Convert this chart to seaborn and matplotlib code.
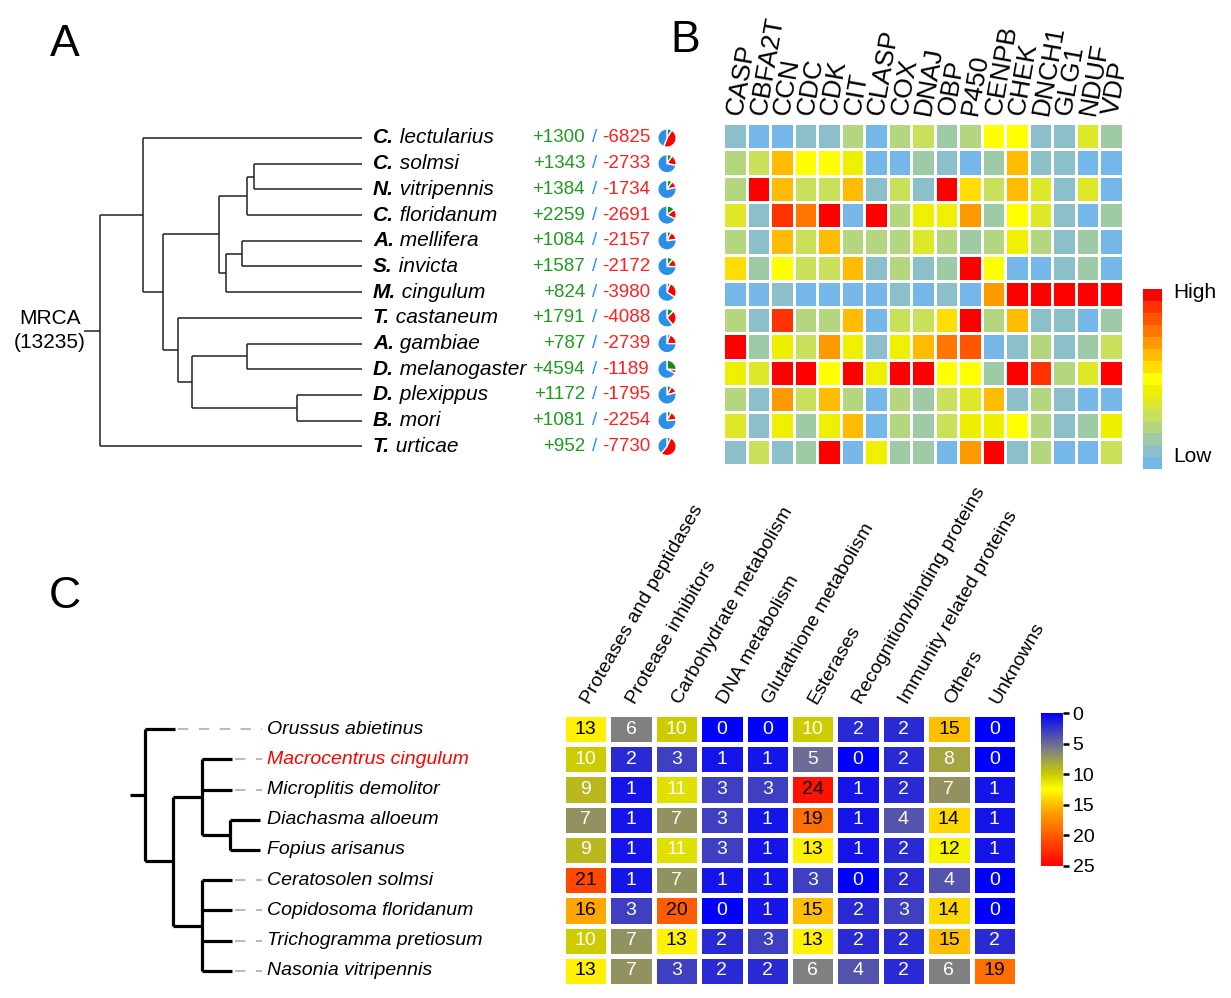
import numpy as np
import pandas as pd
import seaborn as sns
import matplotlib.pyplot as plt
from matplotlib.colors import ListedColormap, LinearSegmentedColormap

# ---------------- data ----------------
species_a = ['C. lectularius', 'C. solmsi', 'N. vitripennis', 'C. floridanum', 'A. mellifera',
             'S. invicta', 'M. cingulum', 'T. castaneum', 'A. gambiae', 'D. melanogaster',
             'D. plexippus', 'B. mori', 'T. urticae']
gains = [1300, 1343, 1384, 2259, 1084, 1587, 824, 1791, 787, 4594, 1172, 1081, 952]
losses = [6825, 2733, 1734, 2691, 2157, 2172, 3980, 4088, 2739, 1189, 1795, 2254, 7730]
mrca_size = 13235

# tree A: (node depth, children), leaves by name
tree_a = (0, [(43, ['C. lectularius',
                    (63, [(119, [(147, [(154, ['C. solmsi', 'N. vitripennis']), 'C. floridanum']),
                                 (126, [(142, ['A. mellifera', 'S. invicta']), 'M. cingulum'])]),
                          (78, ['T. castaneum',
                                (92, [(147, ['A. gambiae', 'D. melanogaster']),
                                      (197, ['D. plexippus', 'B. mori'])])])])]),
              'T. urticae'])
tips_a = {s: 262 for s in species_a}

genes = ['CASP', 'CBFA2T', 'CCN', 'CDC', 'CDK', 'CIT', 'CLASP', 'COX', 'DNAJ', 'OBP',
         'P450', 'CENPB', 'CHEK', 'DNCH1', 'GLG1', 'NDUF', 'VDP']
# expression level (0 = low ... 14 = high)
levels_b = [
    [1, 0, 0, 1, 1, 3, 0, 3, 4, 2, 3, 7, 7, 1, 1, 5, 2],
    [3, 4, 9, 7, 7, 6, 0, 0, 2, 1, 0, 2, 9, 1, 1, 0, 0],
    [3, 14, 9, 4, 4, 9, 1, 4, 1, 14, 8, 4, 9, 5, 1, 5, 0],
    [5, 1, 13, 11, 14, 0, 14, 3, 6, 6, 10, 2, 7, 5, 1, 0, 2],
    [3, 1, 9, 4, 9, 3, 3, 3, 5, 3, 2, 3, 6, 3, 1, 2, 0],
    [8, 2, 7, 4, 4, 9, 1, 3, 1, 2, 14, 7, 0, 0, 1, 2, 0],
    [0, 0, 1, 0, 0, 0, 0, 1, 0, 1, 0, 10, 14, 14, 14, 14, 14],
    [3, 1, 13, 3, 3, 9, 0, 4, 4, 8, 14, 3, 9, 1, 1, 0, 2],
    [14, 2, 6, 4, 10, 6, 1, 6, 9, 11, 12, 0, 1, 3, 1, 2, 4],
    [6, 5, 14, 14, 7, 14, 6, 14, 14, 7, 7, 2, 14, 13, 3, 5, 14],
    [3, 1, 10, 4, 9, 3, 0, 3, 2, 4, 5, 9, 1, 3, 1, 0, 0],
    [5, 1, 6, 2, 6, 9, 0, 3, 2, 4, 6, 6, 7, 3, 1, 2, 6],
    [1, 4, 1, 2, 14, 0, 6, 2, 2, 0, 10, 14, 1, 3, 0, 0, 4],
]
colors_b = ['#76b7ea', '#8bc0cb', '#9ecba6', '#b3d67f', '#c8e05a', '#dce828', '#eef000',
            '#ffff00', '#ffdd00', '#ffbb00', '#ff9900', '#ff7700', '#ff5500', '#ff3300', '#ff0000']

species_c = ['Orussus abietinus', 'Macrocentrus cingulum', 'Microplitis demolitor',
             'Diachasma alloeum', 'Fopius arisanus', 'Ceratosolen solmsi',
             'Copidosoma floridanum', 'Trichogramma pretiosum', 'Nasonia vitripennis']
categories = ['Proteases and peptidases', 'Protease inhibitors', 'Carbohydrate metabolism',
              'DNA metabolism', 'Glutathione metabolism', 'Esterases',
              'Recognition/binding proteins', 'Immunity related proteins', 'Others', 'Unknowns']
counts_c = [
    [13, 6, 10, 0, 0, 10, 2, 2, 15, 0],
    [10, 2, 3, 1, 1, 5, 0, 2, 8, 0],
    [9, 1, 11, 3, 3, 24, 1, 2, 7, 1],
    [7, 1, 7, 3, 1, 19, 1, 4, 14, 1],
    [9, 1, 11, 3, 1, 13, 1, 2, 12, 1],
    [21, 1, 7, 1, 1, 3, 0, 2, 4, 0],
    [16, 3, 20, 0, 1, 15, 2, 3, 14, 0],
    [10, 7, 13, 2, 3, 13, 2, 2, 15, 2],
    [13, 7, 3, 2, 2, 6, 4, 2, 6, 19],
]
tree_c = (0, ['Orussus abietinus',
              (28, [(57, ['Macrocentrus cingulum', 'Microplitis demolitor',
                          (85, ['Diachasma alloeum', 'Fopius arisanus'])]),
                    (57, ['Ceratosolen solmsi', 'Copidosoma floridanum',
                          'Trichogramma pretiosum', 'Nasonia vitripennis'])])])
tips_c = {'Orussus abietinus': 30, 'Diachasma alloeum': 115, 'Fopius arisanus': 115}
for s in species_c:
    tips_c.setdefault(s, 87)

# ---------------- figure ----------------
W, H = 1231, 998
sns.set_theme(style='white')
plt.rcParams['font.family'] = ['Liberation Sans', 'DejaVu Sans']
plt.rcParams['text.color'] = 'black'
plt.rcParams['xtick.color'] = 'black'
plt.rcParams['ytick.color'] = 'black'
fig = plt.figure(figsize=(W / 100, H / 100), dpi=100)


def rect(x0, y0, x1, y1):
    return [x0 / W, 1 - y1 / H, (x1 - x0) / W, (y1 - y0) / H]


def draw_tree(ax, node, parent_x, rows, tips, **kw):
    if isinstance(node, str):
        y = rows[node] + 0.5
        ax.plot([parent_x, tips[node]], [y, y], **kw)
        return y
    x, kids = node
    ys = [draw_tree(ax, k, x, rows, tips, **kw) for k in kids]
    ax.plot([x, x], [ys[0], ys[-1]], **kw)
    y = (ys[0] + ys[-1]) / 2
    ax.plot([parent_x, x], [y, y], **kw)
    return y


# ---- panel A ----
top_a, row_h = 125.15, 25.7
axA = fig.add_axes(rect(0, top_a, 700, top_a + 13 * row_h))
axA.set_xlim(-100, 600)
axA.set_ylim(13, 0)
axA.axis('off')
rows_a = {s: i for i, s in enumerate(species_a)}
root_y = draw_tree(axA, tree_a, -16, rows_a, tips_a, color='#222222', lw=1.1,
                   solid_capstyle='butt')
axA.text(-50, root_y - 0.47, 'MRCA', ha='center', va='center', fontsize=15)
axA.text(-50, root_y + 0.47, '(%d)' % mrca_size, ha='center', va='center', fontsize=15)

for i, s in enumerate(species_a):
    y = i + 0.5
    genus, sp = s.split(' ')
    t = axA.text(273, y, genus, fontsize=15, fontweight='bold', fontstyle='italic',
                 va='center', ha='left')
    axA.annotate(' ' + sp, xy=(1, 0), xycoords=t, va='bottom', ha='left',
                 fontsize=15, fontstyle='italic')
    axA.text(485, y, '+%d' % gains[i], color='#1f9a1f', fontsize=13.5, ha='right', va='center')
    axA.text(495, y, '/', color='#1e90ff', fontsize=13.5, ha='center', va='center')
    axA.text(502, y, '-%d' % losses[i], color='#ff2020', fontsize=13.5, ha='left', va='center')

    yc = top_a + (i + 0.5) * row_h
    axp = fig.add_axes(rect(655.5, yc - 11.5, 678.5, yc + 11.5))
    axp.pie([gains[i], losses[i], mrca_size - losses[i]],
            colors=['#1a8c1a', '#ff0000', '#2a8fe8'], startangle=90, counterclock=False)
    axp.set_xlim(-1.25, 1.25)
    axp.set_ylim(-1.25, 1.25)
    axp.set_aspect('equal')

# ---- panel B ----
dfB = pd.DataFrame(levels_b, index=species_a, columns=genes)
axB = fig.add_axes(rect(723, 123, 1123, 465))
caxB = fig.add_axes(rect(1143, 289, 1162, 469))
sns.heatmap(dfB, ax=axB, cmap=ListedColormap(colors_b), vmin=-0.5, vmax=14.5,
            linewidths=2, linecolor='white', cbar_ax=caxB)
axB.xaxis.tick_top()
axB.set_xticklabels(genes, rotation=80, ha='left', va='center', rotation_mode='anchor',
                    fontsize=19)
axB.tick_params(axis='x', length=0, pad=6)
axB.set_yticks([])
axB.set_xlabel('')
axB.set_ylabel('')
axB.collections[0].colorbar.outline.set_visible(False)
caxB.set_yticks([0.7, 14.4])
caxB.set_yticklabels(['Low', 'High'], fontsize=15)
caxB.tick_params(length=0, pad=8)

# ---- panel C ----
axTC = fig.add_axes(rect(100, 714, 560, 986))
axTC.set_xlim(-45, 415)
axTC.set_ylim(9, 0)
axTC.axis('off')
rows_c = {s: i for i, s in enumerate(species_c)}
draw_tree(axTC, tree_c, -15, rows_c, tips_c, color='black', lw=2.3, solid_capstyle='butt')
for i, s in enumerate(species_c):
    y = i + 0.5
    if tips_c[s] < 110:
        axTC.plot([tips_c[s] + 3, 117], [y, y], color='#bbbbbb', lw=1.5,
                  linestyle=(0, (5, 5)))
    axTC.text(122, y, s, fontsize=14, fontstyle='italic', va='center', ha='left',
              color='red' if s.startswith('Macrocentrus') else 'black')

cmapC = LinearSegmentedColormap.from_list(
    'venom', [(0, '#0000ff'), (6 / 25, '#808080'), (10 / 25, '#cccc00'),
              (12.5 / 25, '#ffff00'), (16 / 25, '#ffa500'), (1, '#ff0000')])
dfC = pd.DataFrame(counts_c, index=species_c, columns=categories)
axHC = fig.add_axes(rect(563, 714, 1017, 986))
caxC = fig.add_axes(rect(1041, 713, 1063, 866))
sns.heatmap(dfC, ax=axHC, cmap=cmapC, vmin=0, vmax=25, annot=True, fmt='d',
            annot_kws={'fontsize': 14}, linewidths=2.2, linecolor='white', cbar_ax=caxC)
vals = dfC.values.ravel()
for txt, v in zip(axHC.texts, vals):
    txt.set_color('black' if v >= 12 else 'white')
axHC.xaxis.tick_top()
axHC.set_xticklabels(categories, rotation=60, ha='left', va='center', rotation_mode='anchor',
                     fontsize=14)
axHC.tick_params(axis='x', length=0, pad=8)
axHC.set_yticks([])
axHC.set_xlabel('')
axHC.set_ylabel('')
axHC.collections[0].colorbar.outline.set_visible(False)
caxC.invert_yaxis()
caxC.set_yticks([0, 5, 10, 15, 20, 25])
caxC.tick_params(length=4, width=1.8, labelsize=14, color='black', pad=3, right=True)

# panel letters
fig.text(65 / W, 1 - 45 / H, 'A', fontsize=32, ha='center', va='center')
fig.text(685 / W, 1 - 40 / H, 'B', fontsize=32, ha='center', va='center')
fig.text(65 / W, 1 - 597 / H, 'C', fontsize=32, ha='center', va='center')

fig.savefig('out.png', dpi=100)
